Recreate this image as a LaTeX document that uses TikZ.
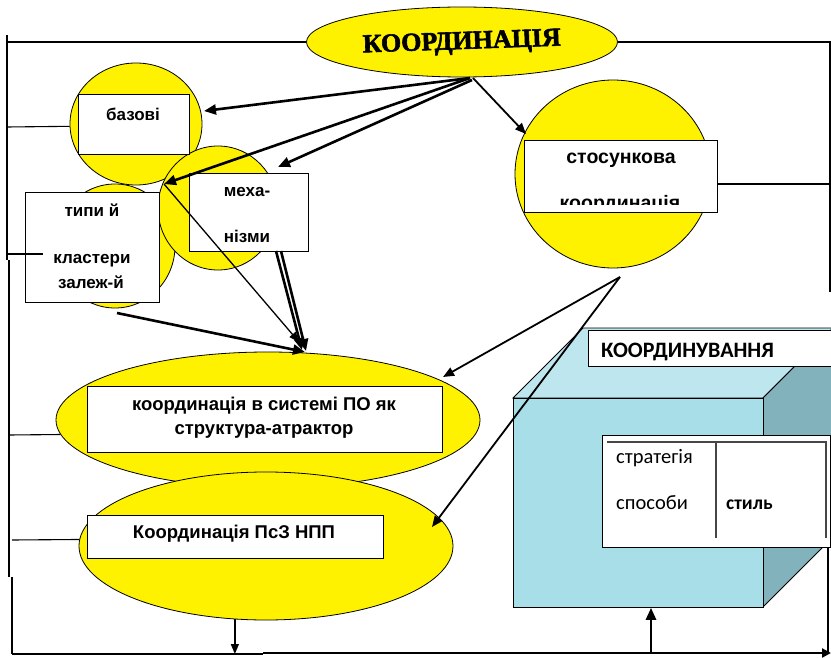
\documentclass[tikz,border=0pt]{standalone}
\usepackage{fontspec}
\setmainfont{Liberation Sans}
\newfontfamily\serifb{Liberation Serif}[BoldFeatures={FakeBold=2.2}]
\newfontfamily\calib{Carlito}
\usetikzlibrary{shapes.geometric,arrows.meta}
\definecolor{cubefront}{RGB}{168,222,232}
\definecolor{cubetop}{RGB}{190,230,238}
\definecolor{cuberight}{RGB}{130,178,188}
\definecolor{innergray}{RGB}{70,70,70}
\tikzset{
  frameline/.style={line width=1.1pt, draw=black},
  yel/.style={ellipse, draw=black, line width=0.8pt, fill=yellow, inner sep=0pt},
  wbox/.style={draw=black, line width=1pt, fill=white, anchor=north west, inner sep=0pt},
  thickarr/.style={line width=2.6pt, -{Triangle[length=12pt,width=10pt]}},
  medarr/.style={line width=1.8pt, -{Triangle[length=11pt,width=9pt]}},
  thinarr/.style={line width=1.3pt, -{Triangle[length=10pt,width=8pt]}},
  lbl/.style={font=\bfseries\fontsize{17}{19}\selectfont, inner sep=0pt, anchor=base},
  biglbl/.style={font=\bfseries\fontsize{18.5}{20}\selectfont, inner sep=0pt, anchor=base},
  callbl/.style={font=\calib\fontsize{20.5}{22}\selectfont, inner sep=0pt, anchor=base west},
}
\begin{document}
\begin{tikzpicture}[x=1pt,y=-1pt]
\useasboundingbox (0,0) rectangle (831,658);
\fill[white] (0,0) rectangle (831,658);

% ---------- frame lines ----------
\coordinate (fl1) at (7,42);
\coordinate (fl2) at (7,260);
\coordinate (fl3) at (9,577);
\coordinate (fl4) at (12,654);
\draw[frameline] (7,35) -- (fl1) -- (fl2);
\draw[frameline] (9,260) -- (fl3);
\draw[frameline] (12,577) -- (fl4);

% ---------- top ellipse ----------
\node[yel, minimum width=311pt, minimum height=70pt] (top) at (462,42) {};
\node[font=\serifb\bfseries\fontsize{26}{28}\selectfont, inner sep=0pt, anchor=base, rotate=2] (toptxt) at (462,49) {КООРДИНАЦІЯ};
\draw[frameline] (top.west) -- (fl1);
\coordinate (fr1) at (830,42);
\coordinate (fr2) at (830,292);
\draw[frameline] (top.east) -- (fr1) -- (fr2);

% ---------- left cluster ----------
\node[yel, minimum width=120pt, minimum height=124pt] (typc) at (115,246) {};
\node[yel, minimum width=132pt, minimum height=122pt] (basc) at (136,124) {};
\node[yel, minimum width=120pt, minimum height=124pt] (mechc) at (218,208) {};
\draw[frameline] (7,127) -- (basc.182.6);

\node[wbox, minimum width=111pt, minimum height=60pt] (basb) at (78,94) {};
\node[lbl] (bast) at (133,121) {базові};

\node[wbox, minimum width=134pt, minimum height=110pt] (typb) at (25,192) {};
\node[lbl] (typt1) at (92,217) {типи й};
\node[lbl] (typt2) at (92,263) {кластери};
\node[lbl] (typt3) at (91,288) {залеж-й};
\coordinate (typin) at (43,254);
\draw[frameline] (8,254) -- (typin);

\node[wbox, minimum width=119pt, minimum height=78pt] (mechb) at (189,173) {};
\node[lbl] (mecht1) at (247,197) {меха-};
\node[lbl] (mecht2) at (247,243) {нізми};

% ---------- stosunkova ----------
\node[yel, minimum width=196pt, minimum height=188pt] (stosc) at (613,174) {};
\node[wbox, minimum width=193pt, minimum height=72pt] (stosb) at (524,140) {};
\node[lbl, font=\bfseries\fontsize{19.5}{21}\selectfont] (stost1) at (621,164) {стосункова};
\begin{scope}
  \clip (524,140) rectangle (717,205);
  \node[lbl, font=\bfseries\fontsize{19.5}{21}\selectfont] (stost2) at (620,210) {координація};
\end{scope}
\coordinate (fr3) at (830,184);
\draw[frameline] (stosb.east |- fr3) -- (fr3);

% ---------- big ellipses ----------
\node[yel, minimum width=424pt, minimum height=136pt] (ell1) at (268,420) {};
\node[wbox, minimum width=355pt, minimum height=66pt] (box1) at (87,386) {};
\node[biglbl] (b1t1) at (264,410) {координація в системі ПО як};
\node[biglbl] (b1t2) at (264,434) {структура-атрактор};
\draw[frameline] (9,435) -- (ell1.184.1);

\node[yel, minimum width=374pt, minimum height=148pt] (ell2) at (266,546) {};
\node[wbox, minimum width=296pt, minimum height=43pt] (box2) at (87,515) {};
\node[biglbl] (b2t) at (234,538) {Координація ПсЗ НПП};
\draw[frameline] (12,540) -- (ell2.178.2);

% ---------- cube ----------
\fill[cubetop, draw=black, line width=0.8pt] (513,398) -- (583,328) -- (833,328) -- (763,398) -- cycle;
\fill[cuberight, draw=black, line width=0.8pt] (763,398) -- (833,328) -- (833,537) -- (763,607) -- cycle;
\node[draw=black, line width=0.8pt, fill=cubefront, anchor=north west, minimum width=250pt, minimum height=209pt, inner sep=0pt] (cube) at (513,398) {};

\node[wbox, minimum width=250pt, minimum height=36pt, line width=1.2pt] (koordb) at (588,330) {};
\node[font=\calib\bfseries\fontsize{22}{24}\selectfont, inner sep=0pt, anchor=base west] (koordt) at (601,357) {КООРДИНУВАННЯ};

\node[wbox, minimum width=228pt, minimum height=112pt, line width=1.2pt] (stratb) at (602,435) {};
\draw[innergray, line width=1.6pt] (607,442) -- (827,442);
\draw[innergray, line width=1.6pt] (716,442) -- (716,538);
\draw[innergray, line width=1.2pt] (826,442) -- (826,538);
\node[callbl] (strt1) at (616,463) {стратегія};
\node[callbl] (strt2) at (616,509) {способи};
\node[callbl, font=\calib\bfseries\fontsize{19.5}{21}\selectfont] (strt3) at (726,509) {стиль};

% ---------- bottom line ----------
\coordinate (bl1) at (263,654);
\coordinate (bl2) at (831,653);
\coordinate (rv1) at (828,548);
\coordinate (rv2) at (828,652);
\draw[frameline] (fl4) -- (bl1);
\draw[line width=2.2pt, -{Triangle[length=9pt,width=9pt]}] (263,653) -- (bl2);
\draw[line width=1.3pt] (rv1) -- (rv2);

% ---------- arrows ----------
\coordinate (src) at (470,78);
\coordinate (pbase) at (204,111);
\coordinate (pcorner) at (164,184);
\coordinate (pmech) at (278,167);
\coordinate (pstos) at (526,134);
\draw[thickarr] (src) -- (pbase);
\draw[thickarr] (src) -- (pcorner);
\draw[thickarr] (472,80) -- (pmech);
\draw[medarr] (473,78) -- (pstos);

\coordinate (conv) at (305,352);
\draw[thinarr] (pcorner) -- (299,342);
\draw[thickarr] (276,251) -- (302,350);
\draw[thickarr] (281,251) -- (306,351);
\draw[thickarr] (117,313) -- (conv);

\coordinate (sbot) at (620,277);
\coordinate (pe1) at (443,377);
\coordinate (pe2) at (432,527);
\draw[medarr] (sbot) -- (pe1);
\draw[medarr] (sbot) -- (pe2);

\draw[thinarr] (ell2.247.7) -- (ell2.247.7 |- fl4);
\draw[thickarr] (651,653) -- (cube.south -| 651,0);
\end{tikzpicture}
\end{document}
